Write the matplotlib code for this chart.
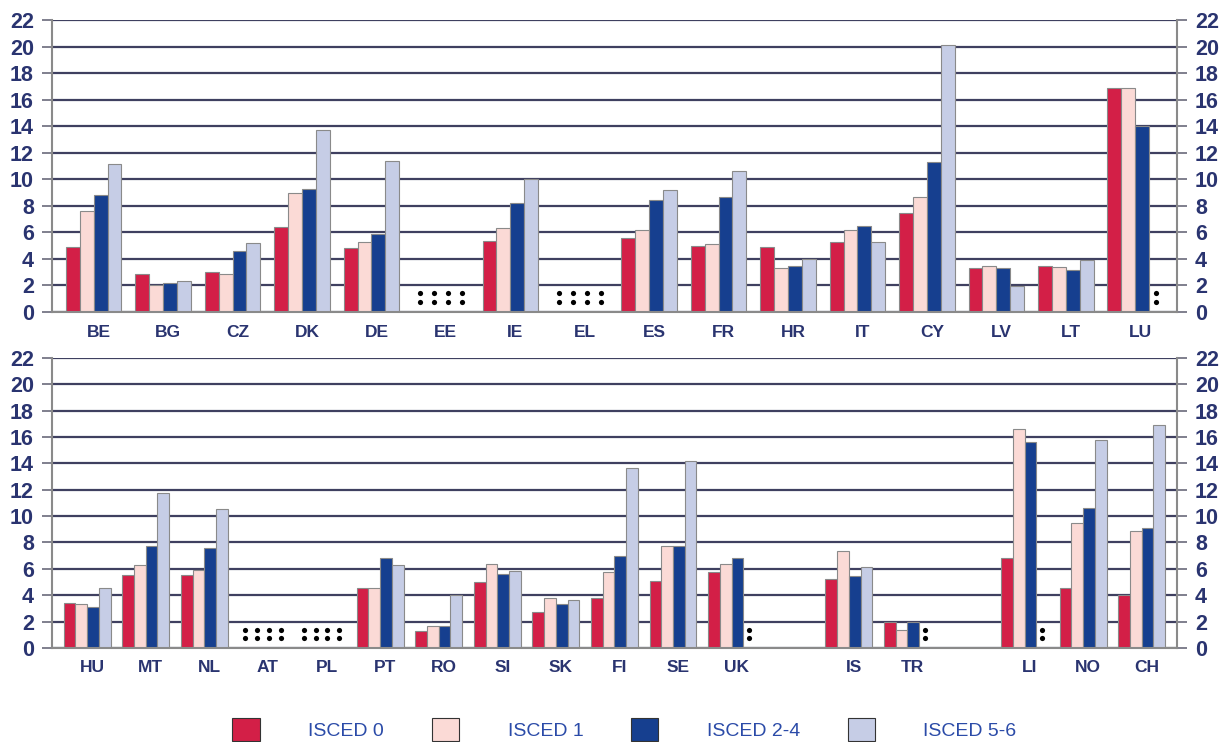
import numpy as np
import matplotlib.pyplot as plt
import matplotlib.transforms as mtransforms
from matplotlib.patches import Patch

nan = np.nan

# top panel
countries_top = ['BE', 'BG', 'CZ', 'DK', 'DE', 'EE', 'IE', 'EL', 'ES', 'FR', 'HR', 'IT', 'CY', 'LV', 'LT', 'LU']
isced0_top = [4.9, 2.9, 3.0, 6.4, 4.85, nan, 5.35, nan, 5.6, 4.95, 4.9, 5.3, 7.45, 3.35, 3.45, 16.9]
isced1_top = [7.6, 2.0, 2.9, 9.0, 5.3, nan, 6.35, nan, 6.2, 5.1, 3.3, 6.2, 8.7, 3.5, 3.4, 16.9]
isced24_top = [8.85, 2.2, 4.6, 9.25, 5.9, nan, 8.25, nan, 8.45, 8.65, 3.5, 6.45, 11.3, 3.3, 3.2, 14.0]
isced56_top = [11.15, 2.3, 5.2, 13.7, 11.4, nan, 10.0, nan, 9.2, 10.65, 4.0, 5.3, 20.15, 1.95, 3.9, nan]

# bottom panel ('' = empty slot)
countries_bot = ['HU', 'MT', 'NL', 'AT', 'PL', 'PT', 'RO', 'SI', 'SK', 'FI', 'SE', 'UK', '', 'IS', 'TR', '', 'LI', 'NO', 'CH']
isced0_bot = [3.4, 5.5, 5.55, nan, nan, 4.55, 1.3, 5.0, 2.75, 3.8, 5.1, 5.75, None, 5.25, 1.95, None, 6.8, 4.55, 4.0]
isced1_bot = [3.35, 6.3, 5.95, nan, nan, 4.55, 1.7, 6.35, 3.8, 5.8, 7.7, 6.4, None, 7.35, 1.4, None, 16.6, 9.45, 8.85]
isced24_bot = [3.1, 7.7, 7.55, nan, nan, 6.85, 1.7, 5.6, 3.3, 6.95, 7.75, 6.85, None, 5.45, 1.95, None, 15.6, 10.6, 9.1]
isced56_bot = [4.55, 11.75, 10.55, nan, nan, 6.3, 4.0, 5.85, 3.65, 13.65, 14.2, nan, None, 6.15, nan, None, nan, 15.75, 16.9]

series_names = ['ISCED 0', 'ISCED 1', 'ISCED 2-4', 'ISCED 5-6']
colors = ['#D31F47', '#FBDAD6', '#163F8F', '#C6CDE6']
navy = '#2A3470'

plt.rcParams['font.family'] = ['Liberation Sans', 'DejaVu Sans']

fig = plt.figure(figsize=(12.24, 7.42), dpi=100)
ax_top = fig.add_axes([0.0425, 0.5795, 0.919, 0.3935])
ax_bot = fig.add_axes([0.0425, 0.1267, 0.919, 0.391])


def draw_panel(ax, cats, series):
    x = np.arange(len(cats))
    w = 0.2
    for k, (vals, col) in enumerate(zip(series, colors)):
        xs = x + (k - 1.5) * w
        v = np.array([np.nan if a is None else a for a in vals], dtype=float)
        ax.bar(xs, np.nan_to_num(v), width=w, color=col, edgecolor='#8a8a8a',
               linewidth=0.8, zorder=3)
        # ":" = data not available, drawn as two round dots
        miss = [xi for xi, vi, raw, c in zip(xs, v, vals, cats)
                if raw is not None and np.isnan(vi) and c]
        for yy in (0.75, 1.4):
            ax.scatter(miss, [yy] * len(miss), s=14, color='black', marker='o',
                       linewidths=0, zorder=4)
    ax.set_xlim(-0.6, len(cats) - 0.4)
    ax.set_ylim(0, 22)
    ax.set_yticks(range(0, 23, 2))
    ax.set_xticks(x)
    ax.set_xticklabels(cats)
    ax.grid(axis='y', color='#3F4060', linewidth=1.6, zorder=1)
    ax.grid(axis='x', visible=False)
    ax.spines['top'].set_visible(False)
    for s in ['left', 'right', 'bottom']:
        ax.spines[s].set_color('#8a8a8a')
        ax.spines[s].set_linewidth(1.5)
        ax.spines[s].set_zorder(5)
    ax.tick_params(axis='y', which='both', left=True, right=True, labelleft=True,
                   labelright=True, length=7, width=1.2, color='#6a6a7a', pad=6,
                   labelsize=15.5, labelcolor=navy)
    ax.tick_params(axis='x', length=0, pad=9, labelsize=12.5, labelcolor=navy)
    shift = mtransforms.ScaledTranslation(0.05, 0, fig.dpi_scale_trans)
    for lab in ax.get_xticklabels():
        lab.set_transform(lab.get_transform() + shift)
    for lab in ax.get_yticklabels() + ax.get_xticklabels():
        lab.set_fontweight('bold')


draw_panel(ax_top, countries_top, [isced0_top, isced1_top, isced24_top, isced56_top])
draw_panel(ax_bot, countries_bot, [isced0_bot, isced1_bot, isced24_bot, isced56_bot])

handles = [Patch(facecolor=c, edgecolor='#333333', linewidth=0.8) for c in colors]
fig.legend(handles, series_names, loc='upper left', bbox_to_anchor=(0.182, 0.045),
           ncol=4, frameon=False, fontsize=14, handlelength=1.4, handleheight=1.4,
           handletextpad=2.5, columnspacing=2.45, borderpad=0, labelcolor='#2B4BA8')

fig.savefig('out.png', dpi=100)
